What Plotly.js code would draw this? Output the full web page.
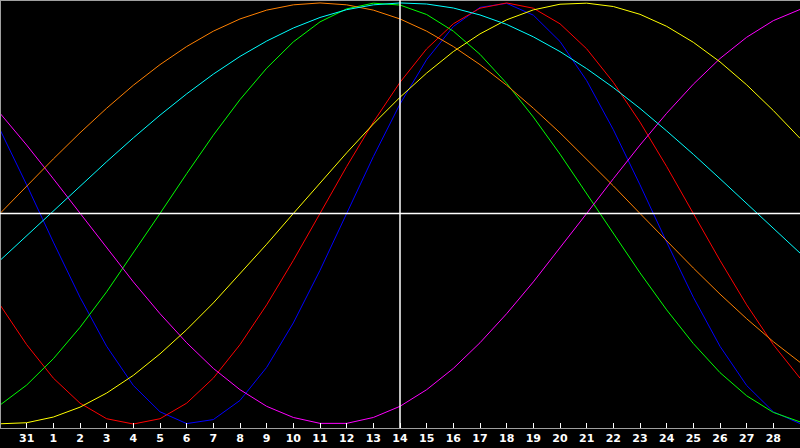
<!DOCTYPE html>
<html>
<head>
<meta charset="utf-8">
<script src="https://cdn.plot.ly/plotly-3.0.1.min.js"></script>
<style>
  html, body { margin: 0; padding: 0; background: #000; }
  #chart { width: 800px; height: 448px; }
</style>
</head>
<body>
<div id="chart"></div>
<script>
// day slots along the bottom, 0 is the left edge, 30 the right edge
var dayIndex = [0, 1, 2, 3, 4, 5, 6, 7, 8, 9, 10, 11, 12, 13, 14, 15,
                16, 17, 18, 19, 20, 21, 22, 23, 24, 25, 26, 27, 28, 29, 30];
var tickPos = [1, 2, 3, 4, 5, 6, 7, 8, 9, 10, 11, 12, 13, 14, 15,
               16, 17, 18, 19, 20, 21, 22, 23, 24, 25, 26, 27, 28, 29];
var tickLabels = ['31', '1', '2', '3', '4', '5', '6', '7', '8', '9', '10', '11', '12', '13', '14',
                  '15', '16', '17', '18', '19', '20', '21', '22', '23', '24', '25', '26', '27', '28'];
var todayPos = 15;

// cycles (-1 .. 1)
var physical = [0.398, 0.136, -0.136, -0.398, -0.631, -0.817, -0.942, -0.998, -0.979, -0.888,
                -0.731, -0.520, -0.270, 0, 0.270, 0.520, 0.731, 0.888, 0.979, 0.998,
                0.942, 0.817, 0.631, 0.398, 0.136, -0.136, -0.398, -0.631, -0.817, -0.942, -0.998];
var emotional = [-0.434, -0.623, -0.782, -0.901, -0.975, -1, -0.975, -0.901, -0.782, -0.623,
                 -0.434, -0.223, 0, 0.223, 0.434, 0.623, 0.782, 0.901, 0.975, 1,
                 0.975, 0.901, 0.782, 0.623, 0.434, 0.223, 0, -0.223, -0.434, -0.623, -0.782];
var intellectual = [-0.910, -0.815, -0.690, -0.541, -0.372, -0.189, 0, 0.189, 0.372, 0.541,
                    0.690, 0.815, 0.910, 0.972, 0.999, 0.990, 0.945, 0.866, 0.756, 0.618,
                    0.458, 0.282, 0.095, -0.095, -0.282, -0.458, -0.618, -0.756, -0.866, -0.945, -0.990];
var intuitive = [0.476, 0.325, 0.165, 0, -0.165, -0.325, -0.476, -0.614, -0.736, -0.837,
                 -0.916, -0.969, -0.997, -0.997, -0.969, -0.916, -0.837, -0.736, -0.614, -0.476,
                 -0.325, -0.165, 0, 0.165, 0.325, 0.476, 0.614, 0.736, 0.837, 0.916, 0.969];
var aesthetic = [-0.999, -0.994, -0.967, -0.920, -0.853, -0.769, -0.667, -0.552, -0.425, -0.288,
                 -0.146, 0, 0.146, 0.288, 0.425, 0.552, 0.667, 0.769, 0.853, 0.920,
                 0.967, 0.994, 0.999, 0.983, 0.946, 0.889, 0.813, 0.720, 0.611, 0.489, 0.357];
var awareness = [0, 0.131, 0.259, 0.383, 0.500, 0.609, 0.707, 0.793, 0.866, 0.924,
                 0.966, 0.991, 1, 0.991, 0.966, 0.924, 0.866, 0.793, 0.707, 0.609,
                 0.500, 0.383, 0.259, 0.131, 0, -0.131, -0.259, -0.383, -0.500, -0.609, -0.707];
var spiritual = [-0.223, -0.106, 0.012, 0.130, 0.246, 0.359, 0.467, 0.568, 0.662, 0.746,
                 0.819, 0.881, 0.931, 0.968, 0.991, 1.000, 0.995, 0.976, 0.943, 0.898,
                 0.839, 0.769, 0.688, 0.598, 0.499, 0.392, 0.281, 0.165, 0.048, -0.071, -0.188];

var cycles = [
    {name: 'Physical', y: physical, color: '#0000ff'},
    {name: 'Emotional', y: emotional, color: '#ff0000'},
    {name: 'Intellectual', y: intellectual, color: '#00ff00'},
    {name: 'Intuitive', y: intuitive, color: '#ff00ff'},
    {name: 'Aesthetic', y: aesthetic, color: '#ffff00'},
    {name: 'Awareness', y: awareness, color: '#ff8000'},
    {name: 'Spiritual', y: spiritual, color: '#00ffff'}
];

var data = [];
for (var i = 0; i < cycles.length; i++) {
    data.push({
        x: dayIndex,
        y: cycles[i].y,
        name: cycles[i].name,
        type: 'scatter',
        mode: 'lines',
        line: {color: cycles[i].color, width: 1},
        hoverinfo: 'skip'
    });
}

var layout = {
    width: 800,
    height: 448,
    margin: {l: 0, r: 0, t: 0, b: 20, pad: 0},
    paper_bgcolor: '#000000',
    plot_bgcolor: '#000000',
    showlegend: false,
    xaxis: {
        range: [0, 30],
        tickmode: 'array',
        tickvals: tickPos,
        ticktext: tickLabels,
        ticks: 'inside',
        ticklen: 5,
        tickwidth: 1,
        tickcolor: '#ffffff',
        showgrid: false,
        zeroline: false,
        showline: true,
        linecolor: '#a0a0a0',
        linewidth: 1,
        tickfont: {family: 'DejaVu Sans', size: 11, color: '#ffffff', weight: 'bold'},
        fixedrange: true
    },
    yaxis: {
        range: [-1.019, 1.014],
        visible: false,
        fixedrange: true
    },
    shapes: [
        // frame
        {type: 'line', xref: 'paper', yref: 'paper', x0: 0, x1: 1, y0: 1, y1: 1,
         line: {color: '#a0a0a0', width: 2}},
        {type: 'line', xref: 'paper', yref: 'paper', x0: 0, x1: 0, y0: 0, y1: 1,
         line: {color: '#a0a0a0', width: 2}},
        // zero line
        {type: 'line', xref: 'paper', yref: 'y', x0: 0, x1: 1, y0: 0, y1: 0,
         line: {color: '#ffffff', width: 1.5}},
        // today marker
        {type: 'line', xref: 'x', yref: 'paper', x0: todayPos, x1: todayPos, y0: 0, y1: 1,
         line: {color: '#ffffff', width: 1.5}}
    ]
};

Plotly.newPlot('chart', data, layout, {displayModeBar: false, staticPlot: true});
</script>
</body>
</html>
